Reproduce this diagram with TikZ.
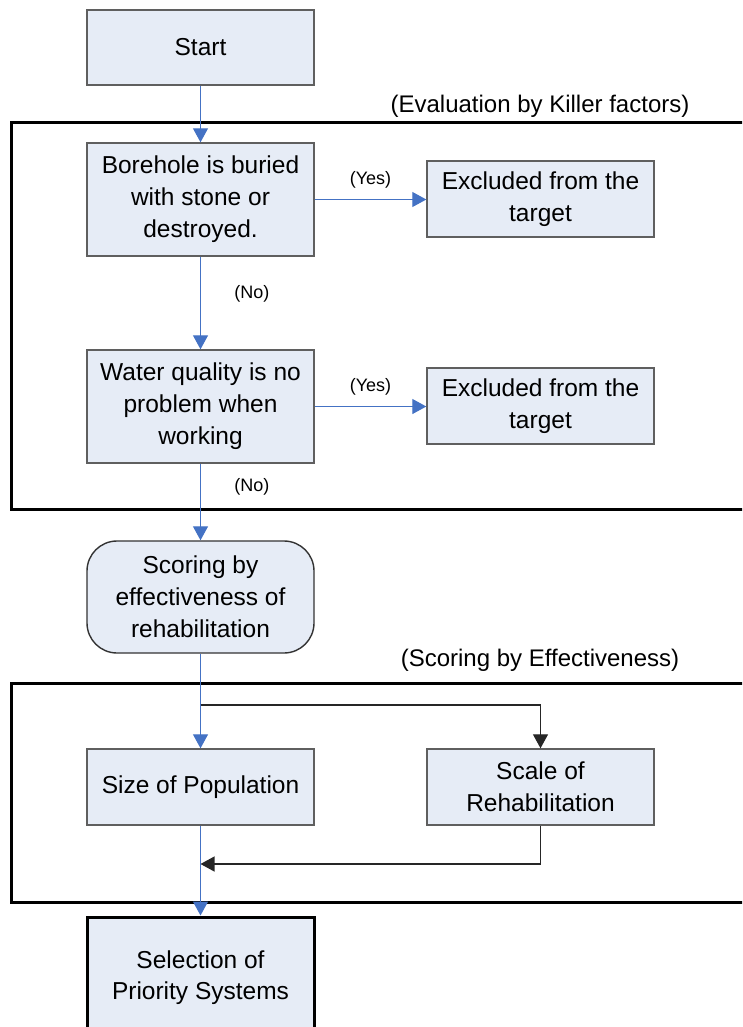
\documentclass[tikz,border=0pt]{standalone}
\usepackage{fontspec}
\setmainfont{Liberation Sans}
\usetikzlibrary{arrows.meta,positioning}
\definecolor{BoxFill}{RGB}{230,236,246}
\definecolor{FlowBlue}{RGB}{68,114,196}
\definecolor{BoxLine}{RGB}{95,95,95}

\tikzset{
    stepbox/.style={draw=BoxLine, fill=BoxFill, line width=1.4pt, minimum width=227pt,
        align=center, inner sep=0pt, font=\fontsize{24.5}{32}\selectfont},
    flow/.style={draw=FlowBlue, line width=1.2pt, -{Triangle[width=15pt,length=14pt]}},
    side/.style={draw=black!85, line width=1.2pt, -{Triangle[width=15pt,length=14pt]}},
    frame/.style={draw=black, line width=3pt},
    answer/.style={font=\fontsize{18}{20}\selectfont},
    framelabel/.style={font=\fontsize{24}{28}\selectfont}
}

\begin{document}
\begin{tikzpicture}[x=1pt, y=-1pt]
    \useasboundingbox (0,0) rectangle (742,1027);
    \clip (0,0) rectangle (742,1027);

    % Frames for the two evaluation stages
    \draw[frame] (11,123) rectangle (770,509);
    \draw[frame] (11,683) rectangle (770,902);
    \node[framelabel] (killerlabel) at (540,106) {(Evaluation by Killer factors)};
    \node[framelabel] (effectlabel) at (540,660) {(Scoring by Effectiveness)};

    % Main column
    \node[stepbox, minimum height=75pt] (start) at (200.5,47.5) {Start};
    \node[stepbox, minimum height=113pt] (borehole) at (200.5,199.5) {Borehole is buried\\with stone or\\destroyed.};
    \node[stepbox, minimum height=113pt] (quality) at (200.5,406.5) {Water quality is no\\problem when\\working};
    \node[stepbox, minimum height=112pt, rounded corners=30pt, draw=black!80] (scoring) at (200.5,597) {Scoring by\\effectiveness of\\rehabilitation};
    \node[stepbox, minimum height=76pt] (population) at (200.5,787) {Size of Population};
    \node[stepbox, minimum height=130pt, draw=black, line width=3pt] (selection) at (200.5,982) {\raisebox{34pt}{\begin{tabular}{@{}c@{}}Selection of\\[-1pt]Priority Systems\end{tabular}}};

    % Right column
    \node[stepbox, minimum height=76pt] (excluded1) at (540.5,199) {Excluded from the\\target};
    \node[stepbox, minimum height=76pt] (excluded2) at (540.5,406) {Excluded from the\\target};
    \node[stepbox, minimum height=76pt] (scale) at (540.5,787) {Scale of\\Rehabilitation};

    % Branch points
    \coordinate (split) at (200.5,705);
    \coordinate (join) at (200.5,864);

    % Connectors
    \draw[flow] (start) -- (borehole);
    \draw[flow] (borehole.east) -- node[answer, above=7pt] (yes1) {(Yes)} (excluded1.west |- borehole.east);
    \draw[flow] (borehole) -- node[answer, pos=0.4, right=30pt] (no1) {(No)} (quality);
    \draw[flow] (quality.east) -- node[answer, above=7pt] (yes2) {(Yes)} (excluded2.west |- quality.east);
    \draw[flow] (quality) -- node[answer, pos=0.3, right=30pt] (no2) {(No)} (scoring);
    \draw[flow] (scoring) -- (population);
    \draw[side] (split) -| (scale.north);
    \draw[side] (scale.south) |- (join);
    \draw[flow] (population) -- (selection);
\end{tikzpicture}
\end{document}
